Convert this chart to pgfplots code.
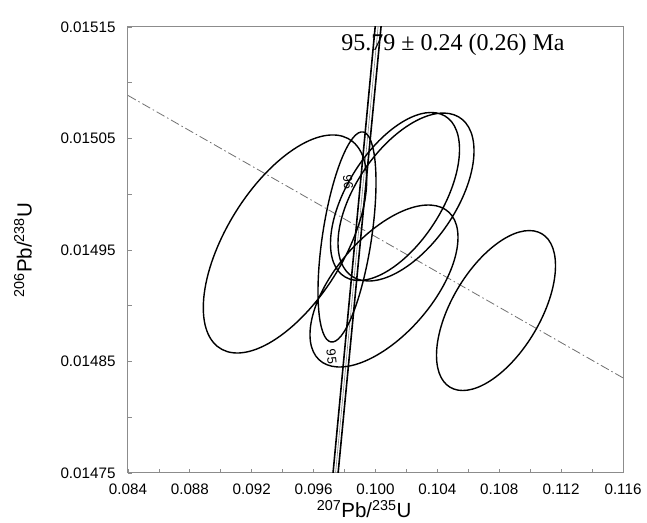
\documentclass[border=0pt]{standalone}
\usepackage{fontspec}
\setmainfont{Liberation Sans}
\newfontfamily\timesfont{Liberation Serif}
\usepackage{pgfplots}
\pgfplotsset{compat=1.18}
\definecolor{axgray}{RGB}{140,140,140}
\definecolor{txtgray}{RGB}{70,70,70}
% error ellipse: centre (cx,cy), conjugate semi-diameters (ux,uy) and (0,vy)
\newcommand{\errell}[5]{%
  \pgfpathellipse{\pgfplotspointaxisxy{#1}{#2}}{\pgfplotspointaxisdirectionxy{#3}{#4}}{\pgfplotspointaxisdirectionxy{0}{#5}}%
}
\begin{document}
\begin{tikzpicture}[x=1pt,y=1pt]
\begin{axis}[
  scale only axis, width=495pt, height=446pt,
  xmin=0.084, xmax=0.116, ymin=0.01475, ymax=0.01515,
  xtick={0.084,0.088,0.092,0.096,0.100,0.104,0.108,0.112,0.116},
  ytick={0.01475,0.01485,0.01495,0.01505,0.01515},
  minor x tick num=1, minor y tick num=1,
  xtick pos=bottom, ytick pos=left,
  tick align=inside,
  major tick length=4pt, minor tick length=4pt,
  every tick/.style={axgray, line width=0.8pt},
  axis line style={axgray, line width=1pt},
  scaled x ticks=false, scaled y ticks=false,
  ticklabel style={font=\fontsize{15.2}{18}\selectfont},
  xticklabel style={/pgf/number format/fixed, /pgf/number format/fixed zerofill, /pgf/number format/precision=3, /pgf/number format/assume math mode=true, yshift=-7pt},
  yticklabel style={/pgf/number format/fixed, /pgf/number format/fixed zerofill, /pgf/number format/precision=5, /pgf/number format/assume math mode=true, xshift=-9pt},
  xlabel={\textsuperscript{207}Pb/\textsuperscript{235}U},
  ylabel={\textsuperscript{206}Pb/\textsuperscript{238}U},
  label style={font=\fontsize{20.5}{24}\selectfont},
  xlabel style={at={(axis description cs:0.477,-0.081)}, anchor=center},
  ylabel style={at={(axis description cs:-0.212,0.5)}, anchor=center},
]
% reference line (dash-dot)
\addplot[axgray!80!black, line width=0.8pt, dash pattern=on 9pt off 3pt on 1.5pt off 3pt] coordinates {(0.084,0.0150886) (0.116,0.0148353)};
% concordia and its decay-constant envelope
\addplot[gray, line width=0.6pt] coordinates {(0.096997,0.0146886) (0.098077,0.0148460) (0.099159,0.0150034) (0.100242,0.0151609)};
\addplot[black, line width=1.6pt] coordinates {(0.096837,0.0146886) (0.100052,0.0151609)};
\addplot[black, line width=1.6pt] coordinates {(0.097157,0.0146886) (0.100432,0.0151609)};
% data-point error ellipses
\pgfplotsextra{%
  \pgfsetlinewidth{1.4pt}%
  \pgfsetstrokecolor{black}%
  \errell{0.094150}{0.0149554}{0.005282}{0.0000572}{0.0000793}%
  \errell{0.098158}{0.0149617}{0.001875}{0.0000490}{0.0000805}%
  \errell{0.101261}{0.0149980}{0.004170}{0.0000422}{0.0000624}%
  \errell{0.101972}{0.0149975}{0.004396}{0.0000414}{0.0000629}%
  \errell{0.100549}{0.0149177}{0.004784}{0.0000436}{0.0000581}%
  \errell{0.107790}{0.0148957}{0.003846}{0.0000402}{0.0000594}%
  \pgfusepath{stroke}%
}
% age labels
\node[font=\fontsize{13}{15}\selectfont, rotate=-84] at (axis cs:0.098222,0.015011) {96};
\node[font=\fontsize{13}{15}\selectfont, rotate=-84] at (axis cs:0.097168,0.0148543) {95};
\node[font=\timesfont\fontsize{24}{28}\selectfont, anchor=base] at (axis description cs:0.6566,0.9484) {95.79 ± 0.24 (0.26) Ma};
\node[font=\fontsize{12.5}{14}\selectfont, text=txtgray, anchor=base] at (axis description cs:0.805,1.0157) {data-point\ \ error ellipses\ \ are 2σ};
\end{axis}
\pgfresetboundingbox
\path[use as bounding box] ([shift={(-128pt,-50pt)}]current axis.south west) rectangle ([shift={(24pt,27pt)}]current axis.north east);
\end{tikzpicture}
\end{document}
